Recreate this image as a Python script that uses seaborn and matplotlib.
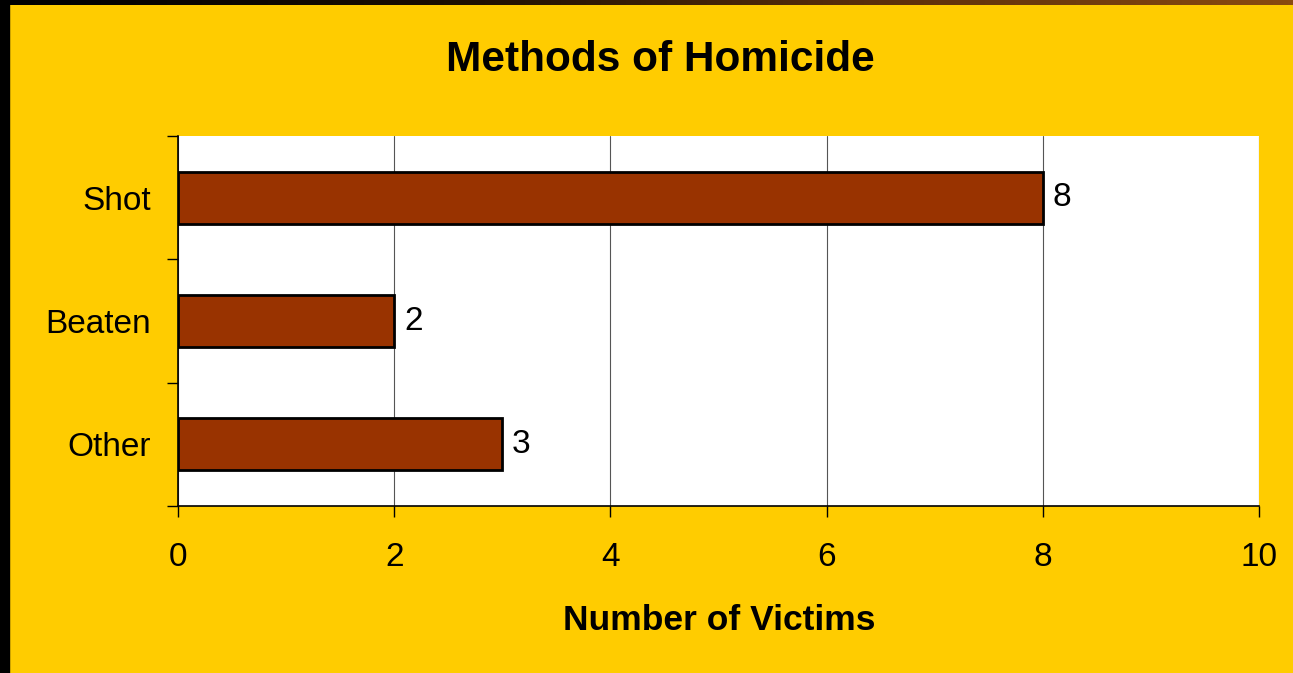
import numpy as np
import pandas as pd
import matplotlib
matplotlib.use("Agg")
import matplotlib.pyplot as plt
import seaborn as sns

# Data
methods = ["Shot", "Beaten", "Other"]
victims = [8, 2, 3]
x_ticks = [0, 2, 4, 6, 8, 10]

df = pd.DataFrame({"Method": methods, "Victims": victims})

sns.set_style("white")
plt.rcParams["font.family"] = ["Liberation Sans", "DejaVu Sans"]
plt.rcParams["text.color"] = "black"
plt.rcParams["xtick.color"] = "black"
plt.rcParams["ytick.color"] = "black"

gold = "#FFCC00"
fig = plt.figure(figsize=(12.93, 6.73), dpi=100, facecolor=gold)

# dark slide frame: left strip and top strip with a brown gradient
fig.patches.append(plt.Rectangle((0, 0), 9 / 1293, 1, transform=fig.transFigure,
                                 color="black", zorder=0))
top = fig.add_axes([0, 1 - 5 / 673, 1, 5 / 673])
grad = np.linspace(0, 1, 256).reshape(1, -1)
top.imshow(grad, aspect="auto", cmap=matplotlib.colors.LinearSegmentedColormap.from_list(
    "frame", ["#000000", "#1a0d00", "#5a2e0a", "#8a4a10"]))
top.axis("off")

ax = fig.add_axes([178 / 1293, 1 - 506 / 673, (1259 - 178) / 1293, (506 - 136) / 673])
ax.set_facecolor("white")

sns.barplot(data=df, x="Victims", y="Method", order=methods, orient="h",
            color="#993300", edgecolor="black", linewidth=2, width=0.42,
            saturation=1, ax=ax, zorder=3)

# value labels next to bars
for c in ax.containers:
    ax.bar_label(c, padding=7, fontsize=24, color="black")

ax.set_xlim(0, 10)
ax.set_ylim(2.5, -0.5)
ax.set_xticks(x_ticks)
ax.set_xticklabels([str(t) for t in x_ticks], fontsize=24)
ax.xaxis.grid(True, color="#555555", linewidth=0.8, zorder=0)
ax.set_axisbelow(True)

# category ticks sit between the bars, labels centered on bars
ax.set_yticks([-0.5, 0.5, 1.5, 2.5])
ax.set_yticklabels([])
ax.set_yticks([0, 1, 2], minor=True)
ax.set_yticklabels(methods, minor=True, fontsize=24)
ax.tick_params(axis="y", which="minor", left=False, length=0, pad=19.5)
ax.tick_params(axis="y", which="major", left=True, length=8, width=1,
               color="black", direction="out")
ax.tick_params(axis="x", bottom=True, length=8, width=1, color="black",
               direction="out", pad=18)
ax.set_xlabel("")
ax.set_ylabel("")

for s in ["top", "right"]:
    ax.spines[s].set_visible(False)
for s in ["left", "bottom"]:
    ax.spines[s].set_color("black")
    ax.spines[s].set_linewidth(1.2)

fig.text(660 / 1293, 1 - 60 / 673, "Methods of Homicide", ha="center", va="center",
         fontsize=30.5, fontweight="bold")
fig.text(719 / 1293, 1 - 621 / 673, "Number of Victims", ha="center", va="center",
         fontsize=25.5, fontweight="bold")

fig.savefig("out.png", dpi=100, facecolor=gold)
